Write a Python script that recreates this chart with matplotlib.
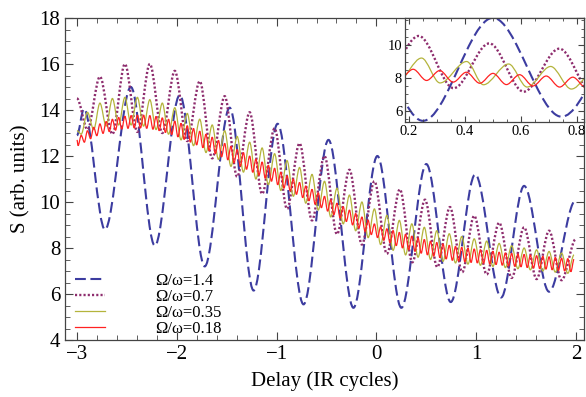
import numpy as np
import matplotlib.pyplot as plt
from matplotlib.path import Path
from matplotlib.patches import PathPatch
from matplotlib.lines import Line2D
from matplotlib.ticker import MultipleLocator

# --- data ---
labels = ['Ω/ω=1.4', 'Ω/ω=0.7', 'Ω/ω=0.35', 'Ω/ω=0.18']

# Ω/ω=1.4 : turning points of the dashed curve
blue_x = [-3.00, -2.93, -2.72, -2.46, -2.22, -1.97, -1.72, -1.47, -1.23, -0.99, -0.73,
          -0.48, -0.23, 0.01, 0.25, 0.50, 0.745, 0.99, 1.25, 1.48, 1.73, 2.00]
blue_y = [12.9, 14.05, 8.8, 15.0, 8.1, 14.65, 7.2, 14.1, 6.15, 13.4, 5.55,
          12.7, 5.4, 12.0, 5.4, 11.65, 5.65, 11.2, 5.85, 10.7, 6.1, 10.1]

# Ω/ω=0.7 : turning points of the dotted curve
purple_x = [-3.00, -2.895, -2.77, -2.645, -2.52, -2.395, -2.27, -2.145, -2.02, -1.895,
            -1.77, -1.645, -1.52, -1.395, -1.27, -1.145, -1.02, -0.895, -0.77, -0.645,
            -0.52, -0.395, -0.27, -0.145, -0.02, 0.105, 0.235, 0.36, 0.487, 0.61,
            0.737, 0.86, 0.98, 1.105, 1.23, 1.355, 1.48, 1.605, 1.73, 1.855, 2.00]
purple_y = [14.5, 13.15, 15.45, 12.95, 16.0, 13.05, 16.0, 13.0, 15.7, 12.65,
            15.25, 11.9, 14.6, 11.1, 13.9, 10.35, 13.2, 9.7, 12.55, 9.2,
            12.0, 8.6, 11.4, 8.15, 10.9, 7.75, 10.55, 7.38, 10.1, 7.17,
            9.78, 6.95, 9.4, 6.85, 9.1, 6.7, 8.9, 6.65, 8.75, 6.6, 8.4]

# Ω/ω=0.35 : start value, then trough/peak pairs (peaks one period apart)
yellow_start = (-3.0, 13.1)
yellow_first_peak = -2.895
yellow_period = 0.125
yellow_peaks = [13.9, 14.3, 14.5, 14.55, 14.55, 14.45, 14.3, 14.1,
                13.85, 13.6, 13.35, 13.1, 12.85, 12.6, 12.35, 12.1,
                11.8, 11.5, 11.2, 10.9, 10.6, 10.3, 10.0, 9.7,
                9.42, 9.2, 9.05, 8.9, 8.75, 8.62, 8.5, 8.4,
                8.3, 8.2, 8.1, 8.0, 7.92, 7.85, 7.78, 7.7]
yellow_troughs = [12.95, 13.15, 13.3, 13.35, 13.35, 13.3, 13.15, 12.95,
                  12.7, 12.45, 12.15, 11.85, 11.55, 11.3, 11.0, 10.75,
                  10.5, 10.25, 9.95, 9.65, 9.35, 9.05, 8.75, 8.45,
                  8.15, 7.9, 7.7, 7.6, 7.5, 7.42, 7.35, 7.3,
                  7.25, 7.2, 7.15, 7.1, 7.05, 7.0, 6.95, 6.9]

# Ω/ω=0.18
red_start = (-3.0, 12.7)
red_first_peak = -2.9575
red_period = 0.0625
red_peaks = [12.9, 13.1, 13.25, 13.4, 13.5, 13.6, 13.68, 13.73, 13.76, 13.78, 13.78, 13.76, 13.72, 13.66, 13.6, 13.52,
             13.42, 13.32, 13.2, 13.08, 12.95, 12.82, 12.68, 12.55, 12.42, 12.28, 12.15, 12.0, 11.87, 11.74, 11.6, 11.47,
             11.3, 11.15, 11.0, 10.85, 10.7, 10.55, 10.4, 10.25, 10.1, 9.95, 9.8, 9.65, 9.5, 9.35, 9.2, 9.05,
             8.92, 8.84, 8.76, 8.68, 8.6, 8.52, 8.44, 8.37, 8.3, 8.24, 8.18, 8.12, 8.07, 8.03, 7.99, 7.96,
             7.93, 7.9, 7.86, 7.82, 7.79, 7.77, 7.74, 7.72, 7.69, 7.67, 7.64, 7.62, 7.59, 7.56, 7.54, 7.51]
red_troughs = [12.45, 12.6, 12.75, 12.88, 12.98, 13.06, 13.12, 13.17, 13.2, 13.22, 13.22, 13.2, 13.16, 13.1, 13.02, 12.93,
               12.83, 12.72, 12.6, 12.48, 12.36, 12.23, 12.1, 11.96, 11.83, 11.7, 11.56, 11.42, 11.29, 11.16, 11.03, 10.9,
               10.75, 10.6, 10.47, 10.33, 10.19, 10.05, 9.9, 9.75, 9.6, 9.45, 9.3, 9.15, 9.0, 8.86, 8.72, 8.58,
               8.45, 8.33, 8.22, 8.1, 8.0, 7.92, 7.85, 7.77, 7.7, 7.64, 7.58, 7.52, 7.46, 7.43, 7.4, 7.37,
               7.35, 7.33, 7.3, 7.28, 7.25, 7.22, 7.2, 7.18, 7.15, 7.12, 7.1, 7.08, 7.05, 7.02, 7.0, 6.97]

# inset (delay 0.2-0.8), the two fast curves as seen magnified there
yellow_inset_x = [0.16, 0.245, 0.311, 0.406, 0.466, 0.556, 0.622, 0.706, 0.78, 0.87]
yellow_inset_y = [7.8, 9.21, 7.70, 9.0, 7.59, 8.85, 7.45, 8.7, 7.33, 8.6]
red_inset_x = [0.168, 0.215, 0.263, 0.31, 0.358, 0.405, 0.453, 0.50, 0.548, 0.595,
               0.643, 0.69, 0.738, 0.785, 0.833]
red_inset_y = [7.95, 8.53, 7.85, 8.45, 7.75, 8.35, 7.68, 8.28, 7.6, 8.2,
               7.52, 8.12, 7.45, 8.05, 7.4]

colors = ['#3c3ca0', '#8e2d6e', '#b4b43c', '#ff2222']


def turning_points(start, first_peak, period, troughs, peaks):
    # troughs sit half a period before each peak
    pk_x = first_peak + period * np.arange(len(peaks))
    xs = np.empty(2 * len(peaks))
    ys = np.empty(2 * len(peaks))
    xs[0::2] = pk_x - period / 2
    xs[1::2] = pk_x
    ys[0::2] = troughs
    ys[1::2] = peaks
    return np.r_[start[0], xs], np.r_[start[1], ys]


def smooth_path(xs, ys):
    # cubic bezier through the turning points, flat tangent at each one
    verts = [(xs[0], ys[0])]
    codes = [Path.MOVETO]
    for i in range(1, len(xs)):
        d = (xs[i] - xs[i - 1]) / 3
        verts += [(xs[i - 1] + d, ys[i - 1]), (xs[i] - d, ys[i]), (xs[i], ys[i])]
        codes += [Path.CURVE4] * 3
    return Path(verts, codes)


def draw_curves(ax, curves, styles):
    for (xs, ys), st in zip(curves, styles):
        ax.add_patch(PathPatch(smooth_path(xs, ys), fill=False, **st))


def style_frame(ax, color, major_len, minor_len, labelsize):
    ax.tick_params(which='both', direction='in', top=True, right=True, color=color)
    ax.tick_params(which='major', length=major_len, width=0.8, labelsize=labelsize)
    ax.tick_params(which='minor', length=minor_len, width=0.6)
    for s in ax.spines.values():
        s.set_color(color)
        s.set_linewidth(0.9)


def main():
    plt.rcParams['font.family'] = ['Liberation Serif', 'DejaVu Serif']
    frame = '#444444'

    curves = [
        (blue_x, blue_y),
        (purple_x, purple_y),
        turning_points(yellow_start, yellow_first_peak, yellow_period, yellow_troughs, yellow_peaks),
        turning_points(red_start, red_first_peak, red_period, red_troughs, red_peaks),
    ]
    inset_curves = [
        (blue_x, blue_y),
        (purple_x, purple_y),
        (yellow_inset_x, yellow_inset_y),
        (red_inset_x, red_inset_y),
    ]
    styles = [
        dict(edgecolor=colors[0], linewidth=1.5, linestyle=(0, (5.2, 2.2)), capstyle='butt'),
        dict(edgecolor=colors[1], linewidth=1.7, linestyle=(0, (0.9, 0.9)), capstyle='butt'),
        dict(edgecolor=colors[2], linewidth=0.9),
        dict(edgecolor=colors[3], linewidth=0.9),
    ]

    fig = plt.figure(figsize=(5.86, 3.97), dpi=100)
    ax = fig.add_axes([65 / 586, 1 - 340 / 397, 519 / 586, 322 / 397])
    draw_curves(ax, curves, styles)
    ax.set_xlim(-3.12, 2.08)
    ax.set_ylim(4, 18)
    ax.xaxis.set_major_locator(MultipleLocator(1))
    ax.xaxis.set_minor_locator(MultipleLocator(0.2))
    ax.yaxis.set_major_locator(MultipleLocator(2))
    ax.yaxis.set_minor_locator(MultipleLocator(0.5))
    style_frame(ax, frame, 6, 3.5, 15)
    ax.set_xlabel('Delay (IR cycles)', fontsize=15, labelpad=5)
    ax.set_ylabel('S (arb. units)', fontsize=15, labelpad=6)

    handles = [Line2D([], [], color=colors[i], linewidth=styles[i]['linewidth'],
                      linestyle=styles[i].get('linestyle', '-')) for i in range(4)]
    ax.legend(handles, labels, loc='lower left', bbox_to_anchor=(0.02, 0.01),
              frameon=False, fontsize=12, handlelength=1.8, handletextpad=3.0,
              labelspacing=0.0, borderpad=0, borderaxespad=0)

    # inset
    ins = fig.add_axes([405 / 586, 1 - 122 / 397, 179 / 586, 104 / 397])
    draw_curves(ins, inset_curves, styles)
    ins.set_xlim(0.186, 0.825)
    ins.set_ylim(5.33, 11.64)
    ins.xaxis.set_major_locator(MultipleLocator(0.2))
    ins.xaxis.set_minor_locator(MultipleLocator(0.05))
    ins.yaxis.set_major_locator(MultipleLocator(2))
    ins.yaxis.set_minor_locator(MultipleLocator(0.5))
    style_frame(ins, frame, 4, 2.5, 10.5)
    ins.tick_params(which='major', pad=2)

    fig.savefig('out.png', dpi=100)


if __name__ == '__main__':
    main()
